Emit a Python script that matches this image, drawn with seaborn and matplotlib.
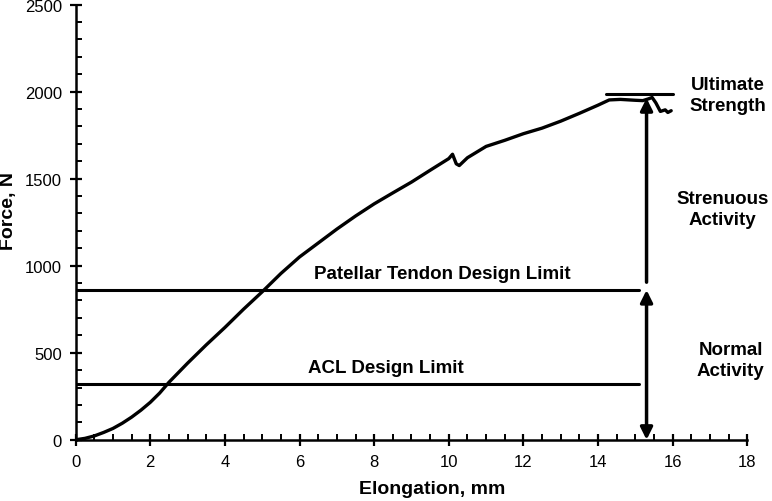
import matplotlib
matplotlib.use("Agg")
import matplotlib.pyplot as plt
from matplotlib.ticker import MultipleLocator
import seaborn as sns
import pandas as pd

# load-elongation curve
elongation = [0, 0.25, 0.5, 0.75, 1.0, 1.25, 1.5, 1.75, 2.0, 2.25, 2.5, 3.0,
              3.5, 4.0, 4.5, 5.0, 5.5, 6.0, 6.5, 7.0, 7.5, 8.0, 8.5, 9.0,
              9.5, 10.0, 10.1, 10.2, 10.28, 10.5, 11.0, 11.5, 12.0, 12.5,
              13.0, 13.5, 14.0, 14.3, 14.6, 15.0, 15.2, 15.35, 15.45, 15.55,
              15.67, 15.8, 15.87, 15.96]
force = [0, 8, 22, 42, 65, 95, 130, 170, 215, 268, 330, 440,
         545, 645, 750, 850, 955, 1050, 1130, 1210, 1285, 1355, 1418, 1480,
         1548, 1615, 1640, 1585, 1575, 1620, 1685, 1720, 1758, 1790,
         1830, 1875, 1922, 1952, 1955, 1950, 1948, 1958, 1966, 1935,
         1886, 1895, 1880, 1890]

acl_limit = 320
patellar_limit = 860
ultimate = 1985
limit_end = 15.1
arrow_x = 15.3

df = pd.DataFrame({"Elongation": elongation, "Force": force})

sns.set_style("ticks")
plt.rcParams['font.family'] = ['Liberation Sans', 'DejaVu Sans']
plt.rcParams['text.color'] = 'black'
plt.rcParams['axes.labelcolor'] = 'black'

fig = plt.figure(figsize=(7.72, 5.02), dpi=100)
ax = fig.add_axes([0.098, 0.122, 0.870, 0.867])

sns.lineplot(data=df, x="Elongation", y="Force", color="black", lw=2.4, ax=ax)

# design limits
ax.plot([0, limit_end], [acl_limit, acl_limit], color="black", lw=2.2)
ax.plot([0, limit_end], [patellar_limit, patellar_limit], color="black", lw=2.2)
ax.plot([14.2, 16.0], [ultimate, ultimate], color="black", lw=2.2)

# activity arrows
ax.annotate("", xy=(arrow_x, 0), xytext=(arrow_x, patellar_limit),
            arrowprops=dict(arrowstyle="<|-|>", color="black", lw=2.5,
                            mutation_scale=18, shrinkA=0, shrinkB=0))
ax.annotate("", xy=(arrow_x, 1962), xytext=(arrow_x, 905),
            arrowprops=dict(arrowstyle="-|>", color="black", lw=2.5,
                            mutation_scale=18, shrinkA=0, shrinkB=0))

txt = dict(fontsize=13.5, fontweight="bold", color="black", linespacing=1.3)
ax.text(9.82, 955, "Patellar Tendon Design Limit", ha="center", va="center", **txt)
ax.text(8.32, 413, "ACL Design Limit", ha="center", va="center", **txt)
ax.text(17.49, 1980, "Ultimate\nStrength", ha="center", va="center", **txt)
ax.text(17.33, 1328, "Strenuous\nActivity", ha="center", va="center", **txt)
ax.text(17.55, 460, "Normal\nActivity", ha="center", va="center", **txt)

ax.set_xlim(0, 18)
ax.set_ylim(0, 2500)
ax.xaxis.set_major_locator(MultipleLocator(2))
ax.xaxis.set_minor_locator(MultipleLocator(0.5))
ax.yaxis.set_major_locator(MultipleLocator(500))
ax.yaxis.set_minor_locator(MultipleLocator(100))
ax.tick_params(which="major", direction="inout", length=8, width=1.6,
               labelsize=12, colors="black", labelcolor="black", pad=6)
ax.tick_params(which="minor", direction="in", length=4, width=1.4, colors="black")

ax.set_xlabel("Elongation, mm", fontsize=14, fontweight="bold", color="black")
ax.set_ylabel("Force, N", fontsize=14, fontweight="bold", color="black")
ax.xaxis.set_label_coords(0.531, -0.093)
ax.yaxis.set_label_coords(-0.088, 0.528)

sns.despine(ax=ax)
for s in ["left", "bottom"]:
    ax.spines[s].set_linewidth(1.8)
    ax.spines[s].set_color("black")

fig.savefig("out.png", dpi=100)
